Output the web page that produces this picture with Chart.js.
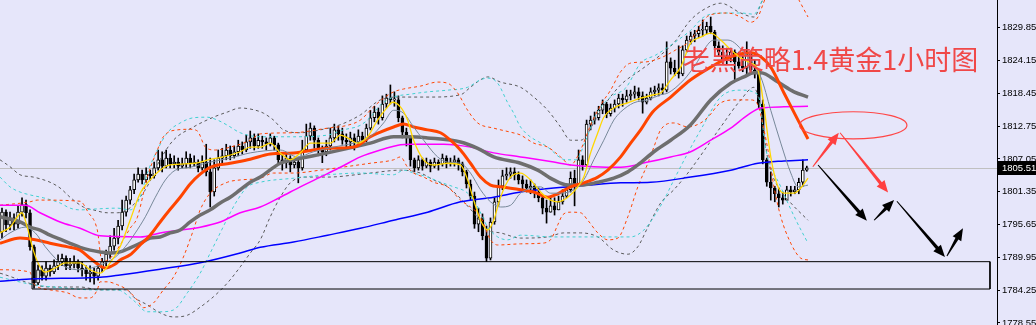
<!DOCTYPE html>
<html lang="zh">
<head>
<meta charset="UTF-8">
<title>老黑策略1.4黄金1小时图</title>
<script src="https://cdn.jsdelivr.net/npm/chart.js"></script>
<style>
  html, body { margin: 0; padding: 0; background: #e6e6fa; }
  #wrap { width: 1036px; height: 325px; }
</style>
</head>
<body>
<div id="wrap"><canvas id="chart" width="1036" height="325"></canvas></div>
<script>
// price axis
const yTickValues = [1829.85, 1824.15, 1818.45, 1812.75, 1807.05, 1801.35, 1795.65, 1789.95, 1784.25, 1778.55];
const priceMin = 1778.2, priceMax = 1834.66;
const barMin = -0.5, barMax = 248.5;
const lastPrice = 1805.51;

// H1 candles (open = previous close)
const firstOpen = 1794.4;
const closes = [
  1797.8, 1795.6, 1796.8, 1795.7, 1797.8, 1799.1, 1797.7, 1791.8, 1785.5, 1787.8,
  1786.7, 1788.1, 1787.4, 1788.5, 1789.2, 1789.8, 1788.5, 1788.8, 1789.2, 1788.1,
  1787.8, 1787.1, 1787.4, 1786.7, 1788.1, 1789.2, 1790.5, 1791.9, 1793.3, 1795.4,
  1797.8, 1799.9, 1801.7, 1803.4, 1804.4, 1803.4, 1804.4, 1804.1, 1805.5, 1806.9,
  1805.8, 1807.2, 1806.2, 1806.5, 1805.8, 1806.2, 1807.2, 1806.2, 1806.5, 1805.5,
  1806.5, 1804.8, 1801.3, 1805.5, 1807.2, 1807.6, 1808.6, 1807.6, 1808.3, 1809.3,
  1808.6, 1810.0, 1810.7, 1809.3, 1810.3, 1810.0, 1809.6, 1810.7, 1809.5, 1806.9,
  1806.4, 1807.2, 1806.0, 1806.5, 1805.5, 1808.6, 1811.0, 1812.4, 1810.3, 1808.6,
  1808.3, 1809.3, 1810.7, 1812.1, 1811.4, 1810.3, 1810.0, 1810.7, 1810.0, 1811.0,
  1810.3, 1812.4, 1814.2, 1815.2, 1814.2, 1816.6, 1817.6, 1817.3, 1817.3, 1814.2,
  1811.7, 1810.7, 1806.9, 1805.5, 1806.9, 1805.8, 1806.5, 1805.8, 1806.5, 1806.2,
  1807.2, 1806.2, 1806.5, 1806.9, 1806.2, 1804.8, 1802.7, 1800.6, 1795.7, 1796.8,
  1793.7, 1789.8, 1796.1, 1799.6, 1802.3, 1804.1, 1804.4, 1804.8, 1804.3, 1803.4,
  1802.7, 1802.0, 1802.3, 1801.3, 1800.3, 1798.5, 1797.8, 1798.9, 1798.2, 1799.6,
  1800.6, 1801.7, 1803.7, 1802.7, 1806.9, 1806.0, 1813.1, 1813.8, 1814.2, 1815.5,
  1816.6, 1814.9, 1815.9, 1816.6, 1817.6, 1817.3, 1818.0, 1818.3, 1818.7, 1818.0,
  1816.9, 1817.6, 1818.7, 1819.0, 1819.4, 1819.0, 1823.9, 1822.8, 1822.2, 1821.8,
  1826.0, 1827.7, 1828.4, 1828.8, 1829.4, 1829.4, 1830.1, 1829.1, 1826.7, 1825.6,
  1824.2, 1824.9, 1825.6, 1823.9, 1823.2, 1822.8, 1825.3, 1822.5, 1821.8, 1816.6,
  1806.9, 1803.0, 1802.0, 1801.0, 1800.3, 1799.9, 1801.7, 1801.3, 1801.7, 1803.0,
  1805.1, 1805.5
];
const highs = [
  1798.5, 1798.2, 1797.8, 1797.5, 1798.9, 1800.3, 1799.9, 1798.2, 1792.1, 1788.6,
  1788.5, 1789.2, 1788.6, 1789.5, 1790.4, 1790.5, 1790.2, 1789.8, 1790.2, 1789.5,
  1789.2, 1788.5, 1788.5, 1788.1, 1788.8, 1789.8, 1791.2, 1793.7, 1795.0, 1796.4,
  1799.9, 1800.6, 1802.3, 1804.4, 1805.5, 1805.1, 1805.5, 1805.1, 1806.5, 1808.6,
  1808.3, 1808.6, 1807.9, 1807.6, 1807.2, 1807.2, 1808.3, 1807.9, 1807.6, 1806.9,
  1807.6, 1809.6, 1807.2, 1806.9, 1808.6, 1808.9, 1809.6, 1809.3, 1809.3, 1810.3,
  1810.0, 1811.2, 1811.9, 1811.4, 1811.4, 1811.0, 1810.7, 1811.4, 1811.0, 1809.8,
  1807.8, 1807.9, 1807.6, 1807.2, 1806.9, 1810.3, 1813.1, 1813.3, 1812.8, 1810.7,
  1809.3, 1810.3, 1812.4, 1813.1, 1812.8, 1812.4, 1811.4, 1811.7, 1811.4, 1812.1,
  1811.7, 1813.1, 1815.5, 1816.2, 1815.9, 1818.0, 1818.3, 1819.9, 1818.7, 1818.0,
  1814.5, 1812.4, 1811.0, 1807.2, 1807.6, 1807.2, 1807.2, 1806.9, 1807.2, 1806.9,
  1807.9, 1807.6, 1807.2, 1807.6, 1807.2, 1806.5, 1805.1, 1803.4, 1801.3, 1798.5,
  1797.5, 1795.4, 1796.8, 1800.3, 1803.4, 1805.1, 1805.5, 1805.5, 1805.5, 1804.8,
  1804.1, 1803.4, 1803.4, 1802.7, 1802.0, 1800.6, 1799.9, 1800.3, 1800.3, 1800.6,
  1801.7, 1802.7, 1804.8, 1805.1, 1808.6, 1807.6, 1813.8, 1814.5, 1815.2, 1816.2,
  1817.3, 1816.9, 1816.6, 1817.3, 1818.3, 1818.3, 1819.0, 1819.0, 1819.7, 1819.4,
  1818.7, 1818.3, 1819.4, 1819.7, 1820.1, 1820.1, 1827.4, 1824.6, 1824.2, 1826.7,
  1826.7, 1828.4, 1829.1, 1829.4, 1830.1, 1831.2, 1830.8, 1831.7, 1829.4, 1827.4,
  1826.7, 1826.3, 1826.3, 1826.0, 1825.6, 1824.9, 1827.4, 1825.6, 1824.2, 1822.5,
  1817.3, 1807.2, 1804.8, 1802.3, 1802.0, 1801.3, 1802.3, 1802.3, 1802.3, 1803.7,
  1806.9, 1805.8
];
const lows = [
  1793.3, 1794.4, 1794.7, 1794.7, 1795.0, 1797.1, 1796.8, 1791.2, 1784.6, 1785.2,
  1786.0, 1786.0, 1786.7, 1787.1, 1787.8, 1788.5, 1787.8, 1787.8, 1788.1, 1787.4,
  1786.7, 1786.0, 1785.7, 1785.3, 1786.0, 1787.4, 1788.5, 1789.8, 1791.2, 1792.3,
  1794.7, 1797.1, 1799.2, 1801.0, 1803.0, 1802.7, 1803.0, 1803.4, 1803.7, 1805.1,
  1804.8, 1805.5, 1805.5, 1805.5, 1805.1, 1805.5, 1805.5, 1805.5, 1805.8, 1804.8,
  1805.1, 1804.1, 1798.7, 1800.6, 1805.1, 1806.2, 1806.9, 1806.9, 1807.2, 1807.6,
  1807.9, 1808.3, 1808.9, 1808.6, 1808.9, 1808.9, 1808.6, 1809.3, 1808.6, 1806.2,
  1805.1, 1805.5, 1804.8, 1805.5, 1802.9, 1805.1, 1808.3, 1810.3, 1808.9, 1807.6,
  1806.4, 1807.6, 1808.6, 1810.0, 1810.3, 1809.6, 1808.9, 1809.3, 1808.6, 1809.3,
  1809.6, 1810.0, 1812.1, 1813.5, 1813.1, 1813.8, 1815.9, 1816.6, 1816.2, 1813.5,
  1810.7, 1809.3, 1805.8, 1804.8, 1805.1, 1805.1, 1805.5, 1804.8, 1805.5, 1805.1,
  1805.8, 1805.5, 1805.8, 1805.8, 1805.1, 1804.1, 1802.0, 1799.9, 1795.0, 1794.4,
  1793.0, 1789.2, 1789.5, 1795.7, 1799.0, 1801.7, 1803.4, 1803.7, 1803.4, 1802.7,
  1801.7, 1801.3, 1801.0, 1800.3, 1799.6, 1797.5, 1795.9, 1797.8, 1797.3, 1798.2,
  1799.2, 1800.3, 1801.3, 1798.9, 1802.7, 1805.1, 1805.8, 1812.1, 1813.1, 1813.8,
  1814.9, 1814.2, 1814.5, 1815.2, 1815.9, 1816.2, 1816.9, 1817.3, 1817.6, 1817.3,
  1815.0, 1816.6, 1817.3, 1818.0, 1818.0, 1818.3, 1818.7, 1821.8, 1821.5, 1821.1,
  1821.5, 1825.6, 1827.0, 1827.4, 1828.1, 1828.4, 1828.8, 1828.8, 1826.0, 1824.9,
  1823.5, 1823.5, 1823.9, 1820.8, 1822.8, 1822.2, 1821.5, 1821.8, 1821.1, 1815.9,
  1806.2, 1802.3, 1799.9, 1799.6, 1798.7, 1799.2, 1799.9, 1800.6, 1801.0, 1801.0,
  1802.3, 1804.9
];

// moving averages, [bar, price]
const maYellow = [[-0.5,1794.2],[2,1795.2],[5,1797.7],[6.3,1795.2],[7.8,1791.2],[9.5,1788.3],[10.8,1787.4],[13.3,1788.1],[15.8,1789.0],[19.5,1789.0],[22,1787.8],[24.5,1787.2],[27,1789.0],[29.5,1791.8],[32,1796.4],[34.5,1801.1],[37,1803.4],[39.5,1805.1],[42,1806.0],[48.3,1806.3],[51.5,1806.9],[55.3,1807.4],[59.5,1808.3],[62,1809.1],[64.5,1809.1],[67,1809.8],[69.5,1808.1],[72,1806.9],[74.5,1808.1],[77,1809.8],[82,1809.8],[84.5,1811.2],[86.3,1810.7],[88.8,1809.8],[91.3,1810.9],[93.8,1813.8],[96.3,1816.1],[97.5,1816.9],[99.5,1816.1],[101.3,1813.8],[102.8,1810.3],[105.3,1806.9],[107.8,1806.0],[111.3,1806.3],[114.5,1806.0],[116.3,1803.4],[117.8,1799.9],[119.5,1796.4],[121.3,1794.7],[122.8,1796.4],[124.5,1800.4],[127,1803.9],[129.5,1804.6],[132,1803.4],[134.5,1801.3],[137,1799.9],[138.8,1799.6],[141.3,1800.4],[143.8,1802.2],[145.3,1803.9],[147,1808.1],[148.8,1811.6],[150.3,1814.3],[152.8,1815.9],[156.3,1816.8],[159.5,1817.6],[162.8,1818.2],[164.5,1818.5],[167,1820.8],[169.5,1823.0],[172,1827.2],[174.5,1828.2],[177,1828.9],[179.5,1827.7],[182,1826.0],[184.5,1824.6],[187,1823.7],[188.8,1822.5],[190.3,1816.1],[192,1807.4],[193.8,1802.2],[195.3,1801.1],[197.8,1801.1],[199.5,1802.0],[201.3,1803.7]];
const maSlate = [[-0.5,1793.0],[2,1794.2],[5.8,1795.2],[8.3,1794.2],[10.8,1791.8],[13.3,1789.8],[15.8,1788.3],[19.5,1787.8],[23.3,1788.3],[25.8,1789.0],[28.3,1790.0],[30.8,1791.8],[33.3,1794.2],[35.8,1797.0],[38.3,1800.4],[40.8,1803.4],[43.3,1805.1],[47,1805.6],[52,1806.5],[57,1807.2],[62,1808.1],[69.5,1808.6],[73.8,1807.4],[77.8,1808.3],[82.8,1809.1],[87.8,1809.8],[92,1810.9],[95.3,1813.3],[97.8,1815.5],[100.3,1815.0],[102.8,1812.6],[105.3,1810.3],[108.8,1807.4],[111.3,1806.5],[114.5,1806.3],[117,1804.6],[119.5,1801.7],[122,1799.6],[124.5,1798.7],[127,1799.0],[129.5,1801.1],[134.5,1802.2],[137,1801.1],[139.5,1801.1],[142.8,1801.7],[145.3,1803.4],[147.8,1806.9],[150.3,1810.3],[152.8,1813.8],[154.5,1815.2],[157.8,1816.8],[161.3,1817.3],[164.5,1818.2],[166.3,1818.5],[170.3,1820.8],[172.8,1823.0],[177.8,1827.7],[181.3,1827.7],[185.8,1825.1],[189.5,1821.3],[192,1815.5],[194.5,1809.8],[197,1804.6],[198.8,1802.2],[201.3,1802.5]];
const maOrange = [[-0.5,1792.4],[4.5,1793.3],[8.3,1793.0],[12,1792.4],[17,1791.7],[19.5,1791.2],[22,1789.8],[24.5,1788.5],[25.8,1788.1],[28.3,1788.8],[29.5,1789.5],[32,1790.4],[34.5,1792.1],[37,1793.8],[39.5,1796.1],[42,1798.3],[44.5,1800.4],[47,1802.7],[49.5,1804.4],[52,1805.6],[57,1806.3],[62,1807.0],[67,1807.9],[72.8,1808.1],[81.3,1808.9],[87.8,1809.1],[92,1810.9],[94.5,1811.7],[97.8,1812.6],[100.3,1813.1],[102.8,1812.6],[106.3,1812.1],[109.5,1811.6],[112,1810.3],[114.5,1808.6],[117,1806.3],[119.5,1803.9],[122,1802.5],[124.5,1802.2],[129.5,1801.7],[132.8,1801.3],[136.3,1800.4],[138.8,1801.0],[142,1802.2],[145.3,1802.9],[148.8,1803.9],[151.3,1805.1],[154.5,1807.4],[157,1809.8],[159.5,1812.1],[162.5,1815.2],[167,1817.8],[172,1820.8],[177,1823.0],[182,1824.8],[187,1825.5],[189.5,1824.8],[192,1823.0],[195.3,1818.5],[198.8,1813.8],[201.3,1810.5]];
const maGrey = [[-0.5,1797.0],[4.5,1796.1],[7,1795.2],[9.5,1794.7],[12,1793.8],[14.5,1793.1],[17,1792.4],[19.5,1791.7],[22,1791.2],[24.5,1790.9],[27,1790.7],[29.5,1790.9],[32,1791.6],[34.5,1792.4],[37,1793.3],[39.5,1793.5],[42,1794.2],[44.5,1794.7],[47,1796.1],[49.5,1797.3],[52,1798.2],[54.5,1799.4],[57,1800.4],[59.5,1801.7],[62,1803.0],[64.5,1803.9],[69.5,1806.3],[72.8,1806.9],[81.3,1808.1],[87.8,1809.1],[92,1809.8],[97.8,1810.9],[102,1810.9],[106.3,1810.7],[114.5,1810.0],[118.8,1808.9],[122.8,1807.4],[129.5,1806.3],[133.8,1805.1],[137.8,1803.4],[141.3,1802.5],[144.5,1802.5],[148.8,1803.0],[152.8,1803.7],[156.3,1804.8],[158.8,1806.0],[162.8,1808.3],[167,1810.3],[172,1813.0],[177,1817.3],[182,1820.2],[185.3,1821.3],[187.8,1822.0],[189.5,1822.0],[193.8,1820.4],[197.8,1818.7],[201.3,1817.8]];
const maMagenta = [[-0.5,1799.0],[5.8,1799.0],[9.5,1797.7],[14.5,1796.1],[19.5,1795.0],[24.5,1793.7],[34.5,1793.5],[39.5,1794.2],[44.5,1794.7],[49.5,1795.2],[54.5,1796.1],[59.5,1797.7],[64.5,1798.7],[69.5,1800.4],[74.5,1802.2],[79.5,1803.9],[84.5,1805.6],[89.5,1807.4],[94.5,1808.6],[99.5,1809.5],[102,1809.6],[110.3,1809.6],[117,1809.1],[122.8,1808.1],[129.5,1807.4],[137.8,1806.5],[142,1806.0],[154.5,1805.6],[161.3,1806.5],[167,1807.4],[172,1808.3],[177,1810.3],[182,1812.4],[186.3,1814.7],[189.5,1815.9],[195.3,1816.1],[201.3,1816.2]];
const maBlue = [[-0.5,1785.8],[7,1786.2],[24.5,1786.5],[29.5,1786.9],[39.5,1787.9],[49.5,1789.0],[59.5,1790.7],[64.5,1791.7],[72.8,1792.6],[81.3,1793.8],[89.5,1795.0],[97.8,1796.4],[106.3,1797.8],[114.5,1799.6],[122.8,1800.4],[129.5,1801.3],[137.8,1802.0],[146.3,1802.5],[154.5,1802.9],[162,1803.0],[172,1803.9],[182,1805.1],[188.8,1806.3],[195.3,1806.7],[201.3,1806.9]];

// bollinger bands, [bar, price]
const bbOrangeUp = [[-0.5,1799.0],[7,1799.6],[8.8,1799.9],[19.5,1799.7],[21.5,1797.8],[23.8,1794.7],[25,1789.2],[27,1789.8],[29.5,1792.1],[32,1795.0],[33.8,1796.9],[36.3,1803.9],[38.8,1808.6],[40.3,1810.9],[43.8,1812.1],[47,1812.2],[48.8,1811.9],[50.8,1809.1],[53.3,1808.6],[57,1809.1],[62,1810.3],[64.5,1811.4],[72.8,1811.6],[81.3,1812.4],[86.3,1812.9],[89.5,1813.8],[92.8,1816.1],[95.3,1817.6],[97.8,1818.7],[100.3,1819.2],[104.5,1819.7],[108.8,1820.4],[111.3,1820.2],[113.8,1818.5],[116.3,1815.5],[118.8,1813.3],[122.8,1812.4],[127,1811.7],[129.5,1811.2],[132.8,1809.8],[136.3,1809.1],[139.5,1807.4],[142,1806.0],[144.5,1808.6],[147,1812.9],[149.5,1816.4],[152,1819.0],[154.5,1822.2],[157,1823.7],[160.8,1823.9],[164.5,1824.6],[168.3,1826.0],[172,1827.7],[175.3,1831.2],[177,1832.1],[181.3,1832.4],[184.5,1831.7],[187,1830.8],[188.8,1831.7],[190,1833.8],[192,1837.3],[195.8,1839.0],[199,1834.7],[201.3,1831.7]];
const bbOrangeLo = [[-0.5,1787.8],[7,1787.4],[7.8,1785.5],[12,1784.3],[16.3,1783.8],[19.5,1782.9],[22,1782.9],[23.8,1784.3],[24.5,1785.7],[26.3,1785.7],[28.8,1785.2],[31.3,1784.3],[33.8,1782.5],[35.3,1781.2],[37.8,1782.0],[40.3,1784.3],[42.8,1786.5],[45.3,1790.0],[47.8,1794.7],[49.5,1798.2],[52,1801.1],[56.3,1803.0],[59.5,1803.4],[64.5,1803.7],[67.8,1804.6],[72.8,1804.6],[79.5,1805.1],[83.8,1805.5],[92,1806.3],[97.8,1806.9],[99.5,1807.4],[101.3,1805.6],[102.8,1804.6],[105.3,1803.9],[107.8,1803.0],[111.3,1802.2],[114.5,1799.9],[117,1798.7],[119.5,1797.0],[122,1793.0],[123.8,1792.1],[129.5,1792.3],[134.5,1792.4],[137,1793.0],[138.8,1795.6],[140,1797.3],[142,1797.8],[144.5,1797.7],[146.3,1796.4],[148.8,1794.2],[151.3,1793.0],[153.8,1793.3],[156.3,1797.0],[158.8,1802.2],[161.3,1806.3],[162.8,1809.1],[164.5,1812.1],[167.8,1813.3],[171.3,1812.6],[174.5,1813.3],[176.3,1814.3],[179.5,1816.8],[183.3,1817.3],[187,1817.3],[188.8,1816.4],[190.3,1812.1],[191.3,1808.6],[192.8,1802.2],[194.5,1797.0],[197,1792.4],[199.5,1789.8],[201.3,1789.5]];
const bbCyanUp = [[-0.5,1803.9],[2,1802.2],[4.5,1801.3],[7,1800.8],[10.3,1800.3],[14.5,1799.4],[17,1798.5],[19.5,1798.2],[24.5,1798.4],[28.8,1798.5],[32,1798.2],[34.5,1800.4],[36.3,1804.6],[38.8,1808.6],[41.3,1811.6],[44.5,1813.3],[47.8,1814.2],[51.3,1814.3],[53.8,1813.8],[56.3,1812.9],[59.5,1811.6],[64.5,1810.9],[72.8,1810.9],[81.3,1811.2],[85.3,1812.1],[89.5,1812.9],[92,1814.3],[94.5,1816.4],[97.8,1817.8],[102,1818.3],[106.3,1818.7],[111.3,1819.0],[116.3,1819.5],[119.5,1820.8],[121.3,1821.1],[123.8,1820.2],[126.3,1816.8],[127.8,1815.0],[129.5,1812.6],[136.3,1809.1],[140.8,1806.9],[143.3,1806.9],[145.8,1810.3],[148.3,1814.7],[152,1817.8],[155.8,1819.4],[159.5,1823.7],[163.3,1825.1],[167.8,1827.2],[172,1829.4],[175.3,1831.7],[179.5,1832.4],[184.5,1832.4],[187.8,1832.2],[190,1834.7],[193.3,1838.1],[201.3,1838.1]];
const bbCyanLo = [[-0.5,1786.5],[7.8,1785.2],[16.3,1784.6],[22.8,1784.3],[28.8,1784.3],[32.8,1782.5],[36.3,1780.5],[39.5,1780.5],[42.8,1780.8],[46.3,1783.8],[49.5,1787.2],[52,1790.7],[54.5,1794.2],[57,1797.7],[58.8,1799.9],[61.3,1802.2],[64.5,1803.0],[72.8,1803.7],[81.3,1804.3],[89.5,1804.6],[97.8,1804.3],[100.3,1805.1],[102.8,1804.6],[106.3,1803.9],[109.5,1803.0],[112.8,1802.2],[116.3,1801.1],[118.8,1798.7],[121.3,1795.2],[123.8,1793.5],[126.3,1793.0],[129.5,1793.8],[137.8,1793.5],[146.3,1793.5],[157,1793.5],[160.3,1794.7],[162.8,1797.0],[165.3,1799.9],[167.8,1803.4],[171.3,1808.1],[174.5,1812.1],[179.5,1817.8],[184.5,1819.0],[188.8,1818.2],[190.8,1808.6],[194.5,1802.2],[198.3,1796.4],[201.3,1792.4]];
const bbGreyUp = [[-0.5,1806.9],[2,1805.7],[4.5,1804.3],[7.8,1803.9],[12,1803.0],[14.5,1802.0],[17,1800.4],[20.3,1798.7],[22.8,1798.2],[26.3,1797.7],[28.8,1797.7],[31.3,1798.2],[35.8,1801.7],[39.5,1806.9],[42.8,1810.3],[47.8,1812.6],[52.8,1814.3],[56.3,1815.2],[59.5,1815.9],[62.8,1815.6],[65.3,1815.0],[67.8,1813.8],[70.3,1812.1],[74.5,1811.6],[79.5,1812.1],[84.5,1813.0],[89.5,1814.7],[94.5,1817.3],[99.5,1817.8],[107,1817.8],[114.5,1818.2],[117,1819.5],[119.5,1820.8],[121.3,1821.3],[124.5,1820.4],[129.5,1819.5],[132.8,1817.8],[136.3,1815.5],[139.5,1812.6],[142,1810.3],[144.5,1810.3],[149.5,1815.5],[154.5,1819.9],[159.5,1822.5],[162.8,1824.2],[167.8,1827.2],[172,1831.2],[176.3,1833.4],[179.5,1834.1],[184.5,1832.4],[187.8,1831.7],[190,1834.7],[193.3,1838.1],[201.3,1838.1]];
const bbGreyLo = [[-0.5,1787.2],[12,1784.8],[19.5,1784.8],[24.5,1784.3],[31.3,1784.3],[32.8,1783.1],[36.3,1781.7],[39.5,1780.3],[42.8,1779.6],[46.3,1779.9],[49.5,1781.3],[52.8,1783.1],[56.3,1785.5],[59.5,1788.3],[62,1790.7],[64.5,1793.0],[67,1797.0],[69.5,1800.4],[72,1802.9],[75.3,1803.9],[81.3,1803.9],[92,1804.6],[99.5,1805.1],[104.5,1804.6],[107.8,1803.4],[111.3,1802.2],[117.8,1797.7],[121.3,1794.7],[124.5,1794.2],[129.5,1793.3],[136.3,1793.5],[140.3,1794.2],[144.5,1794.2],[148.8,1793.5],[152.8,1791.2],[156.3,1790.5],[158.8,1791.8],[161.3,1795.2],[164.5,1799.4],[167.8,1801.7],[171.3,1804.6],[179.5,1812.6],[184.5,1817.3],[187.8,1819.5],[189.5,1815.5],[191.3,1806.9],[193.8,1802.2],[197,1799.4],[201.3,1796.4]];

// drawn annotations, [bar, price] units
const zoneBox = [7.5, 246.75, 1789.2, 1784.45];
const targetEllipse = [212.6, 1812.9, 13.4, 2.35];
const redArrows = [[202.5, 1805.7, 209, 1811.6], [209.3, 1811.6, 221.3, 1801.2]];
const blackArrows = [[203.8, 1806.0, 216, 1796.3], [217.8, 1796.4, 222.8, 1799.9], [223.5, 1799.7, 235.5, 1790.0], [236, 1790.2, 240, 1795.0]];
const titleText = '老黑策略1.4黄金1小时图';
const titleAnchor = [170, 1822.5];

const toPoints = arr => arr.map(p => ({ x: p[0], y: p[1] }));
const opens = closes.map((c, i) => i === 0 ? firstOpen : closes[i - 1]);

function lineSet(data, color, width, dash, order) {
  return {
    type: 'line', data: toPoints(data), borderColor: color, borderWidth: width,
    borderDash: dash || [], pointRadius: 0, fill: false,
    cubicInterpolationMode: 'monotone', order: order
  };
}

function drawArrow(ctx, x1, y1, x2, y2, color) {
  const len = Math.hypot(x2 - x1, y2 - y1);
  const ux = (x2 - x1) / len, uy = (y2 - y1) / len;
  const nx = -uy, ny = ux;
  const head = 12, hw = 5;
  const bx = x2 - ux * head, by = y2 - uy * head;
  ctx.beginPath();
  ctx.moveTo(x1 + nx * 0.5, y1 + ny * 0.5);
  ctx.lineTo(bx + nx * 1.7, by + ny * 1.7);
  ctx.lineTo(bx + nx * hw, by + ny * hw);
  ctx.lineTo(x2, y2);
  ctx.lineTo(bx - nx * hw, by - ny * hw);
  ctx.lineTo(bx - nx * 1.7, by - ny * 1.7);
  ctx.lineTo(x1 - nx * 0.5, y1 - ny * 0.5);
  ctx.closePath();
  ctx.fillStyle = color;
  ctx.fill();
}

const overlay = {
  id: 'overlay',
  beforeDatasetsDraw(chart) {
    const { ctx, chartArea, scales: { y } } = chart;
    const py = Math.round(y.getPixelForValue(lastPrice)) + 0.5;
    ctx.save();
    ctx.strokeStyle = '#c0c0c0';
    ctx.lineWidth = 1;
    ctx.beginPath();
    ctx.moveTo(chartArea.left, py);
    ctx.lineTo(chartArea.right, py);
    ctx.stroke();
    ctx.restore();
  },
  afterDatasetsDraw(chart) {
    const { ctx, scales: { x, y } } = chart;
    ctx.save();
    // target ellipse
    const [ex, ey, erx, ery] = targetEllipse;
    const cx = x.getPixelForValue(ex), cy = y.getPixelForValue(ey);
    ctx.strokeStyle = '#ff4646';
    ctx.lineWidth = 1.2;
    ctx.beginPath();
    ctx.ellipse(cx, cy, x.getPixelForValue(ex + erx) - cx, cy - y.getPixelForValue(ey + ery), 0, 0, Math.PI * 2);
    ctx.stroke();
    redArrows.forEach(a => drawArrow(ctx, x.getPixelForValue(a[0]), y.getPixelForValue(a[1]),
      x.getPixelForValue(a[2]), y.getPixelForValue(a[3]), '#ff4040'));
    blackArrows.forEach(a => drawArrow(ctx, x.getPixelForValue(a[0]), y.getPixelForValue(a[1]),
      x.getPixelForValue(a[2]), y.getPixelForValue(a[3]), '#000000'));
    // title
    ctx.font = '27px "Noto Sans CJK SC", sans-serif';
    ctx.fillStyle = '#f04848';
    ctx.textBaseline = 'alphabetic';
    ctx.textAlign = 'left';
    ctx.fillText(titleText, x.getPixelForValue(titleAnchor[0]), y.getPixelForValue(titleAnchor[1]));
    ctx.restore();
  },
  afterDraw(chart) {
    const { ctx, chartArea, scales: { y } } = chart;
    const py = Math.round(y.getPixelForValue(lastPrice));
    ctx.save();
    ctx.fillStyle = '#000';
    ctx.fillRect(chartArea.right, py - 7, chart.width - chartArea.right, 14);
    ctx.fillStyle = '#fff';
    ctx.font = '9.5px "Liberation Sans", Arial, sans-serif';
    ctx.textBaseline = 'middle';
    ctx.fillText(lastPrice.toFixed(2), chartArea.right + 5, py + 0.5);
    ctx.restore();
  }
};

const datasets = [
  // zone rectangle
  {
    type: 'line', order: 0, pointRadius: 0, borderColor: '#000', borderWidth: 1, fill: false,
    data: toPoints([[zoneBox[0], zoneBox[2]], [zoneBox[1], zoneBox[2]], [zoneBox[1], zoneBox[3]], [zoneBox[0], zoneBox[3]], [zoneBox[0], zoneBox[2]]])
  },
  lineSet(maYellow, '#ffd700', 1.3, null, 1),
  lineSet(maSlate, '#778899', 1, null, 2),
  lineSet(maOrange, '#ff4500', 3, null, 3),
  lineSet(maGrey, '#6e6e6e', 3.5, null, 4),
  lineSet(maMagenta, '#ff00ff', 1.5, null, 5),
  lineSet(maBlue, '#0000ff', 1.5, null, 6),
  lineSet(bbOrangeUp, '#ff4500', 1, [3, 3], 7),
  lineSet(bbOrangeLo, '#ff4500', 1, [3, 3], 8),
  lineSet(bbCyanUp, '#40d0d0', 1, [3, 3], 9),
  lineSet(bbCyanLo, '#40d0d0', 1, [3, 3], 10),
  lineSet(bbGreyUp, '#5a5a5a', 1, [3, 3], 11),
  lineSet(bbGreyLo, '#5a5a5a', 1, [3, 3], 12),
  // candle bodies
  {
    type: 'bar', order: 20, grouped: false, barThickness: 3, minBarLength: 1,
    borderWidth: 1, borderColor: '#000', borderSkipped: false,
    backgroundColor: closes.map((c, i) => c >= opens[i] ? '#ffffff' : '#000000'),
    data: closes.map((c, i) => ({ x: i, y: [opens[i], c] }))
  },
  // wicks
  {
    type: 'bar', order: 21, grouped: false, barThickness: 1, borderWidth: 0,
    backgroundColor: '#000',
    data: closes.map((c, i) => ({ x: i, y: [lows[i], highs[i]] }))
  }
];

new Chart(document.getElementById('chart'), {
  type: 'bar',
  data: { datasets },
  options: {
    responsive: false,
    animation: false,
    devicePixelRatio: 1,
    layout: { padding: 0 },
    plugins: { legend: { display: false }, tooltip: { enabled: false } },
    scales: {
      x: { type: 'linear', min: barMin, max: barMax, display: false, offset: false },
      y: {
        type: 'linear', position: 'right', min: priceMin, max: priceMax,
        afterBuildTicks: s => { s.ticks = yTickValues.map(v => ({ value: v })); },
        afterFit: s => { s.width = 39; s.paddingTop = 0; s.paddingBottom = 0; },
        ticks: {
          autoSkip: false, color: '#000', padding: 2,
          font: { family: '"Liberation Sans", Arial, sans-serif', size: 9.5 },
          callback: v => v.toFixed(2)
        },
        grid: { drawOnChartArea: false, drawTicks: true, tickLength: 3, color: '#000' },
        border: { display: true, color: '#000', width: 1 }
      }
    }
  },
  plugins: [overlay]
});
</script>
</body>
</html>
